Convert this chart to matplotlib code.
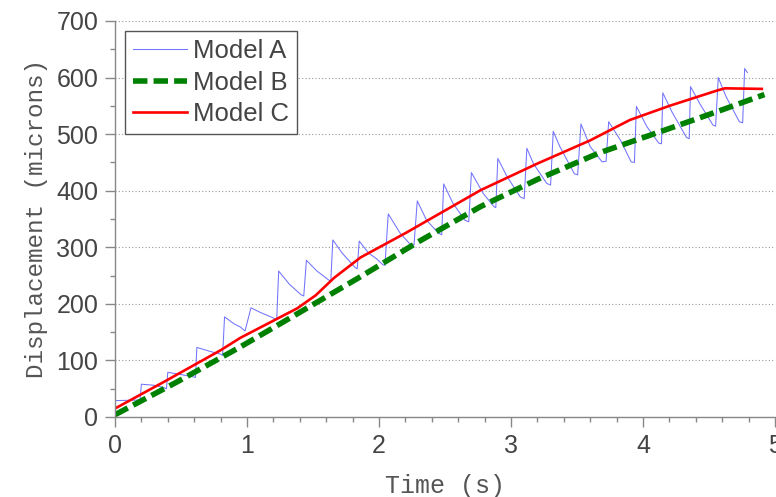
import matplotlib
matplotlib.use("Agg")
import matplotlib.pyplot as plt
from matplotlib.ticker import MultipleLocator

# Model A: measured displacement, sawtooth response (time s, microns)
t_a = [0.00, 0.19, 0.20, 0.30, 0.37, 0.39, 0.40, 0.50, 0.59, 0.61,
       0.62, 0.72, 0.80, 0.815, 0.83, 0.90, 0.95, 0.985, 1.03, 1.10,
       1.20, 1.225, 1.24, 1.32, 1.41, 1.43, 1.45, 1.53, 1.62, 1.635,
       1.65, 1.72, 1.82, 1.835, 1.85, 1.92, 1.98, 2.03, 2.045, 2.07,
       2.16, 2.23, 2.265, 2.29, 2.36, 2.45, 2.475, 2.49, 2.56, 2.65,
       2.68, 2.70, 2.79, 2.87, 2.885, 2.90, 2.97, 3.07, 3.10, 3.12,
       3.17, 3.27, 3.30, 3.32, 3.37, 3.48, 3.505, 3.53, 3.57, 3.60,
       3.69, 3.72, 3.74, 3.83, 3.91, 3.935, 3.95, 4.03, 4.12, 4.14,
       4.15, 4.22, 4.33, 4.35, 4.36, 4.43, 4.53, 4.55, 4.57, 4.63,
       4.73, 4.755, 4.77, 4.79]
y_a = [29, 30, 58, 56, 52, 50, 79, 75, 71, 70,
       123, 116, 111, 109, 177, 165, 159, 152, 193, 185,
       175, 172, 258, 235, 216, 214, 277, 258, 242, 240,
       313, 290, 264, 262, 311, 290, 280, 269, 268, 359,
       325, 307, 304, 382, 348, 325, 322, 412, 378, 348,
       345, 432, 395, 372, 370, 457, 425, 389, 386, 475,
       448, 413, 410, 505, 478, 430, 428, 518, 495, 478,
       451, 452, 522, 489, 451, 450, 549, 513, 484, 483,
       573, 539, 494, 492, 584, 554, 516, 514, 600, 566,
       522, 520, 616, 609]

# Model B
t_b = [0.00, 0.47, 0.95, 1.40, 1.86, 2.30, 2.77, 3.20, 3.67, 4.20, 4.60, 4.92]
y_b = [4, 62, 124, 185, 248, 310, 372, 420, 467, 510, 543, 570]

# Model C
t_c = [0.00, 0.37, 0.80, 0.95, 1.38, 1.52, 1.66, 1.86, 2.20, 2.77, 3.20,
       3.60, 3.90, 4.20, 4.56, 4.62, 4.90]
y_c = [15, 62, 118, 140, 192, 215, 246, 282, 325, 401, 448,
       489, 525, 550, 577, 581, 580]

plt.rcParams['font.family'] = ['Liberation Sans', 'DejaVu Sans']

fig = plt.figure(figsize=(7.76, 4.97), dpi=100)
ax = fig.add_axes([115 / 776, 80 / 497, 660 / 776, 396 / 497])

ax.plot(t_a, y_a, color='#5a5aff', lw=0.75, alpha=0.85, label='Model A')
ax.plot(t_b, y_b, color='#008000', lw=4, dashes=(2.6, 1.1), label='Model B')
ax.plot(t_c, y_c, color='#ff0000', lw=1.9, label='Model C')

ax.set_xlim(0, 5)
ax.set_ylim(0, 700)
ax.xaxis.set_major_locator(MultipleLocator(1))
ax.xaxis.set_minor_locator(MultipleLocator(0.2))
ax.yaxis.set_major_locator(MultipleLocator(100))
ax.yaxis.set_minor_locator(MultipleLocator(50))

ax.grid(axis='y', which='major', color='#999999', linestyle=(0, (1, 2)), lw=0.8)
ax.set_axisbelow(True)

for side in ['top', 'right']:
    ax.spines[side].set_visible(False)
for side in ['left', 'bottom']:
    ax.spines[side].set_color('#888888')
    ax.spines[side].set_linewidth(1.0)

ax.tick_params(which='major', direction='out', length=7, width=1,
               color='#888888', labelsize=18, labelcolor='#444444', pad=5)
ax.tick_params(which='minor', direction='out', length=3.5, width=1,
               color='#888888')

ax.set_xlabel('Time (s)', family='Liberation Mono', fontsize=18,
              color='#555555', labelpad=12)
ax.set_ylabel('Displacement (microns)', family='Liberation Mono',
              fontsize=17.5, color='#555555', labelpad=6)

leg = ax.legend(loc='upper left', fontsize=18.5, frameon=True, fancybox=False,
                edgecolor='#555555', framealpha=1, handlelength=2.1,
                handletextpad=0.25, labelspacing=0.3, borderpad=0.3,
                borderaxespad=0.4)
leg.get_frame().set_linewidth(1.0)
for txt in leg.get_texts():
    txt.set_color('#444444')

fig.savefig('out.png', dpi=100)
